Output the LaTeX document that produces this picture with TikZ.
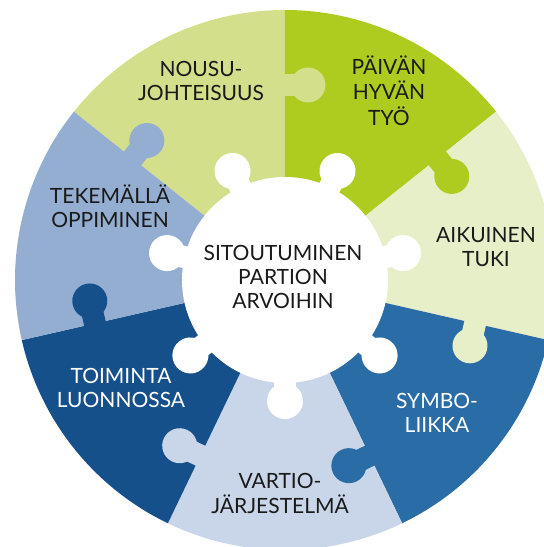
\documentclass[tikz,border=0pt]{standalone}
\usepackage{fontspec}
\setmainfont{Lato}
\definecolor{cNousu}{HTML}{D3DF8B}
\definecolor{cPaivan}{HTML}{AECB1F}
\definecolor{cAikuinen}{HTML}{E7EFC9}
\definecolor{cSymbo}{HTML}{2A6CA5}
\definecolor{cVartio}{HTML}{C9D5E8}
\definecolor{cToiminta}{HTML}{16508A}
\definecolor{cTekem}{HTML}{94AED1}
\definecolor{txtdark}{HTML}{1A1A1A}
\newcommand\mylines[1]{\begin{tabular}[t]{@{}c@{}}#1\end{tabular}}
\begin{document}
\begin{tikzpicture}[x=1pt,y=1pt,
  lbl/.style={anchor=base, inner sep=0pt, font=\fontsize{21}{24}\selectfont, text=txtdark},
  lblw/.style={lbl, text=white}]
\useasboundingbox (-285,280) rectangle (259,-267);
\clip (-285,280) rectangle (259,-267);
% sectors
\def\R{270}
\fill[cNousu]    (0,0) -- (90:\R)      arc[start angle=90,      end angle=141.43,  radius=\R] -- cycle;
\fill[cPaivan]   (0,0) -- (38.57:\R)   arc[start angle=38.57,   end angle=90,      radius=\R] -- cycle;
\fill[cAikuinen] (0,0) -- (-12.86:\R)  arc[start angle=-12.86,  end angle=38.57,   radius=\R] -- cycle;
\fill[cSymbo]    (0,0) -- (-64.29:\R)  arc[start angle=-64.29,  end angle=-12.86,  radius=\R] -- cycle;
\fill[cVartio]   (0,0) -- (-115.71:\R) arc[start angle=-115.71, end angle=-64.29,  radius=\R] -- cycle;
\fill[cToiminta] (0,0) -- (-167.14:\R) arc[start angle=-167.14, end angle=-115.71, radius=\R] -- cycle;
\fill[cTekem]    (0,0) -- (141.43:\R)  arc[start angle=141.43,  end angle=192.86,  radius=\R] -- cycle;
% knobs between outer pieces
\foreach \b/\c in {90/cNousu, 38.57/cPaivan, -12.86/cAikuinen, -64.29/cSymbo,
                   -115.71/cVartio, -167.14/cToiminta, 141.43/cTekem}{
  \begin{scope}[rotate=\b]
    \fill[\c] (184,1) rectangle (206,-12);
    \fill[\c] (195,-23) circle[radius=17.5];
  \end{scope}
}
% centre piece
\fill[white] (0,0) circle[radius=103];
\foreach \m in {115.71, 64.29, 12.86, -38.57, -90, -141.43, 167.14}{
  \begin{scope}[rotate=\m]
    \fill[white] (95,-11) rectangle (110,11);
    \fill[white] (121,0) circle[radius=18];
  \end{scope}
}
% labels
\node[lbl]  (centre)   at (-2,20)    {\mylines{SITOUTUMINEN\\PARTION\\ARVOIHIN}};
\node[lbl]  (nousu)    at (-84,204)  {\mylines{NOUSU-\\JOHTEISUUS}};
\node[lbl]  (paivan)   at (104,206)  {\mylines{PÄIVÄN\\HYVÄN\\TYÖ}};
\node[lbl]  (aikuinen) at (201,38)   {\mylines{AIKUINEN\\TUKI}};
\node[lblw] (symbo)    at (152,-128) {\mylines{SYMBO-\\LIIKKA}};
\node[lbl]  (vartio)   at (-5,-208)  {\mylines{VARTIO-\\JÄRJESTELMÄ}};
\node[lblw] (toiminta) at (-164,-103){\mylines{TOIMINTA\\LUONNOSSA}};
\node[lbl]  (tekem)    at (-175,77)  {\mylines{TEKEMÄLLÄ\\OPPIMINEN}};
\end{tikzpicture}
\end{document}
